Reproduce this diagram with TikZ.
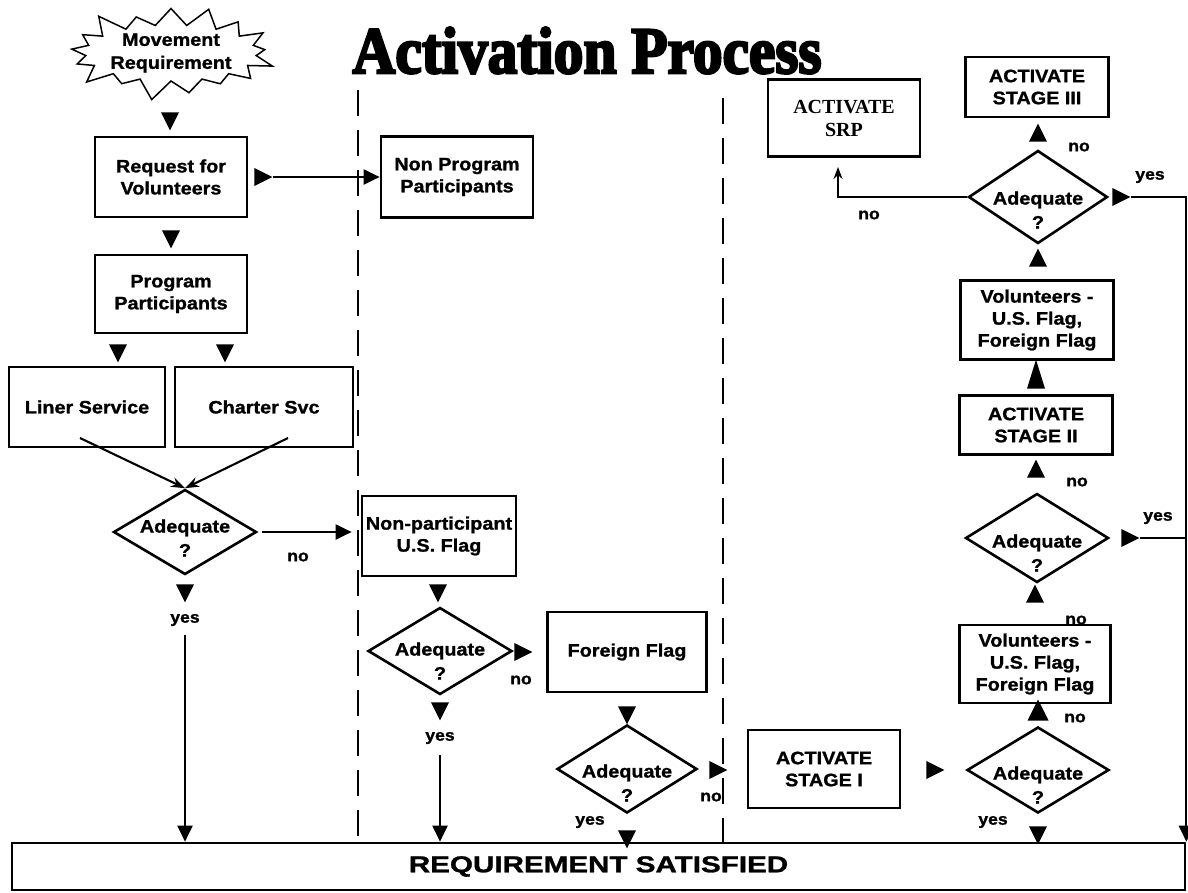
\documentclass[tikz,border=0pt]{standalone}
\usepackage{fontspec}
\usepackage{graphicx}
\setmainfont{Liberation Sans}[FakeStretch=1.1, FakeBold=1.2]
\newfontfamily\srpfont{Liberation Serif}
\newfontfamily\titlefont{Liberation Serif}[FakeBold=4]
\usetikzlibrary{shapes.geometric,shapes.symbols,arrows.meta,calc}
\begin{document}
\begin{tikzpicture}[x=1pt,y=-1pt,
  box/.style={draw, line width=2.7pt, align=center, inner sep=0pt,
    font=\bfseries\fontsize{18}{22}\selectfont},
  dia/.style={draw, diamond, line width=2.6pt, inner sep=0pt},
  diatxt/.style={align=center, inner sep=0pt, font=\bfseries\fontsize{18}{24}\selectfont},
  tri/.style={isosceles triangle, isosceles triangle stretches, fill=black, draw=none,
    inner sep=0pt, minimum width=#1, minimum height=#1},
  tri/.default=18pt,
  lbl/.style={inner sep=0pt, font=\bfseries\fontsize{16}{18}\selectfont},
  con/.style={line width=2.1pt},
  dashline/.style={line width=2.6pt, dash pattern=on 26pt off 14pt},
  bigtip/.style={-{Triangle[length=16pt,width=15pt]}},
  thintip/.style={-{Stealth[length=14pt,width=10pt]}}
]
\useasboundingbox (0,0) rectangle (1188,892);

% title
\node[anchor=base] (title) at (587,73)
  {\titlefont\bfseries\fontsize{66}{70}\selectfont\scalebox{0.9}[1]{Activation Process}};

% swim lane separators
\draw[dashline] (358,90) -- (358,843);
\draw[dashline] (723,98) -- (723,843);

% start
\node[starburst, draw, line width=1.5pt, minimum width=192pt, minimum height=102pt,
  starburst points=17, starburst point height=23pt, inner sep=0pt, align=center,
  font=\bfseries\fontsize{18}{23}\selectfont] (mr) at (171,53) {Movement\\Requirement};

% left lane
\node[box, minimum width=152pt, minimum height=80pt] (rv) at (171,177) {Request for\\Volunteers};
\node[box, minimum width=152pt, minimum height=81pt] (np) at (457,177) {Non Program\\Participants};
\node[box, minimum width=152pt, minimum height=78pt] (pp) at (171,294) {Program\\Participants};
\node[box, minimum width=156pt, minimum height=80pt] (ls) at (87,407) {Liner Service};
\node[box, minimum width=178pt, minimum height=80pt] (cs) at (264,407) {Charter Svc};
\node[dia, minimum width=143pt, minimum height=85pt] (d1) at (185,532) {};
\node[diatxt] (d1t) at (185,538) {Adequate\\?};

% middle lane
\node[box, minimum width=154pt, minimum height=80pt] (nu) at (439,536) {Non-participant\\U.S. Flag};
\node[dia, minimum width=144pt, minimum height=87pt] (d2) at (440,651) {};
\node[diatxt] (d2t) at (440,661) {Adequate\\?};
\node[box, minimum width=159pt, minimum height=80pt] (ff) at (627,652) {Foreign Flag};
\node[dia, minimum width=140pt, minimum height=88pt] (d3) at (627,769) {};
\node[diatxt] (d3t) at (627,783) {Adequate\\?};

% right lane
\node[box, minimum width=152pt, minimum height=78pt] (s1) at (824,769) {ACTIVATE\\STAGE I};
\node[dia, minimum width=142pt, minimum height=86pt] (d4) at (1038,770) {};
\node[diatxt] (d4t) at (1038,785) {Adequate\\?};
\node[box, minimum width=151pt, minimum height=78pt] (v1) at (1035,664) {Volunteers -\\U.S. Flag,\\Foreign Flag};
\node[dia, minimum width=143pt, minimum height=89pt] (d5) at (1037,538) {};
\node[diatxt] (d5t) at (1037,553) {Adequate\\?};
\node[box, minimum width=153pt, minimum height=59pt] (s2) at (1036,425) {ACTIVATE\\STAGE II};
\node[box, minimum width=153pt, minimum height=79pt] (v2) at (1037,320) {Volunteers -\\U.S. Flag,\\Foreign Flag};
\node[dia, minimum width=139pt, minimum height=93pt] (d6) at (1038,197) {};
\node[diatxt] (d6t) at (1038,210) {Adequate\\?};
\node[box, minimum width=143pt, minimum height=60pt] (s3) at (1037,87) {ACTIVATE\\STAGE III};
\node[box, minimum width=152pt, minimum height=77pt, font=\srpfont\bfseries\fontsize{20}{23}\selectfont] (srp) at (844,118) {ACTIVATE\\SRP};

% bottom
\node[box, minimum width=1173pt, minimum height=47pt] (rs) at (598.5,866.5)
  {\fontsize{23}{26}\selectfont\scalebox{1.17}[1]{REQUIREMENT SATISFIED}};

% floating arrow heads
\node[tri, rotate=-90] (t0) at (170,118) {};
\node[tri, rotate=-90] (t1) at (171,236) {};
\node[tri, rotate=0] (t2) at (260,177) {};
\node[tri, rotate=-90] (t3) at (118,350) {};
\node[tri, rotate=-90] (t4) at (225,350) {};
\node[tri, rotate=-90] (t5) at (185,590) {};
\node[tri, rotate=-90] (t6) at (438,590) {};
\node[tri, rotate=0] (t7) at (520,652) {};
\node[tri, rotate=-90] (t8) at (440,708) {};
\node[tri, rotate=-90] (t9) at (627,712) {};
\node[tri, rotate=0] (t10) at (715,770) {};
\node[tri, rotate=-90] (t11) at (627,836) {};
\node[tri, rotate=0] (t12) at (932,770) {};
\node[tri, rotate=-90] (t13) at (1038,832) {};
\node[tri=21pt, rotate=90] (t14) at (1038,714) {};
\node[tri, rotate=90] (t15) at (1035,597) {};
\node[tri, rotate=0] (t16) at (1127,538) {};
\node[tri, rotate=90] (t17) at (1036,472) {};
\node[tri, rotate=90, minimum width=18pt, minimum height=29pt] (t18) at (1036,382) {};
\node[tri, rotate=90] (t19) at (1038,261) {};
\node[tri, rotate=90] (t20) at (1038,136) {};
\node[tri, rotate=0] (t21) at (1118,197) {};

% connectors
\draw[con, bigtip] (t2.apex) -- (np.west);
\coordinate (lsout) at (80,438);
\coordinate (csout) at (288,438);
\draw[con, thintip] (lsout) -- (d1.north);
\draw[con, thintip] (csout) -- (d1.north);
\draw[con, bigtip, shorten <=4pt, shorten >=9pt] (d1.east) -- (d1.east -| nu.west);
\coordinate (y1) at (185,635);
\draw[con, bigtip] (y1) -- (y1 |- rs.north);
\coordinate (y2) at (440,755);
\draw[con, bigtip] (y2) -- (y2 |- rs.north);
\draw[con, bigtip] (t21.apex) -- (t21.apex -| rs.east) -- (rs.north east);
\draw[con] (t16.apex) -- (t16.apex -| rs.east);
\coordinate (srpin) at (838,167);
\draw[con, -{Stealth[length=12pt,width=9pt]}] (d6.west) -| (srpin);

% labels
\node[lbl] (l1) at (298,557) {no};
\node[lbl] (l2) at (185,620) {yes};
\node[lbl] (l3) at (521,680) {no};
\node[lbl] (l4) at (440,738) {yes};
\node[lbl] (l5) at (711,797) {no};
\node[lbl] (l6) at (590,822) {yes};
\node[lbl] (l7) at (993,822) {yes};
\node[lbl] (l8) at (1075,718) {no};
\node[lbl] (l9) at (1076,620) {no};
\node[lbl] (l10) at (1077,482) {no};
\node[lbl] (l11) at (1158,518) {yes};
\node[lbl] (l12) at (1079,147) {no};
\node[lbl] (l13) at (1150,177) {yes};
\node[lbl] (l14) at (869,215) {no};
\end{tikzpicture}
\end{document}
